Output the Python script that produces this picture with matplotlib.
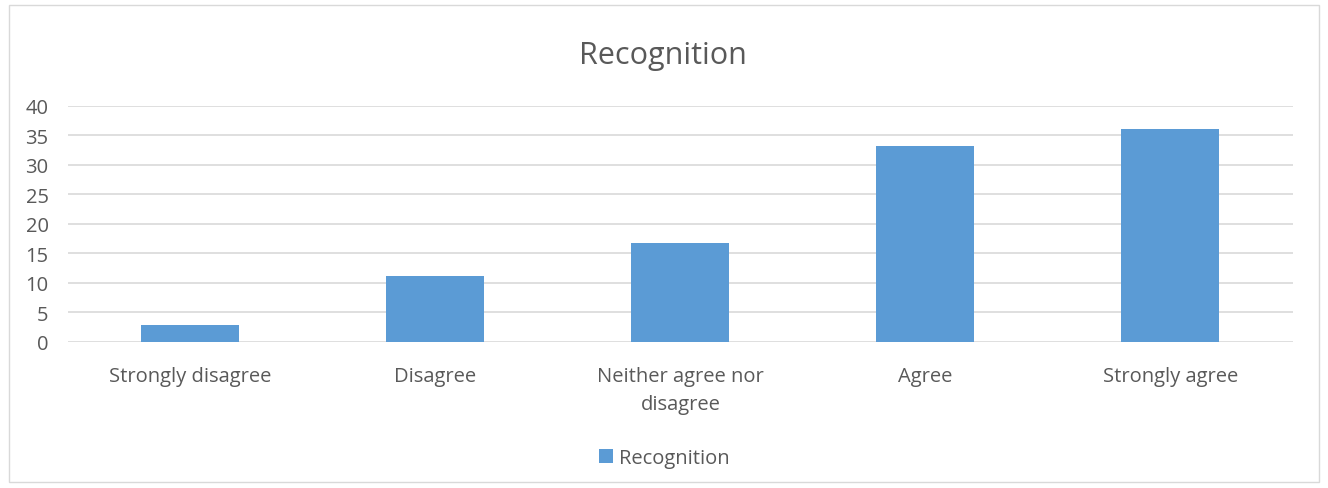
import matplotlib.pyplot as plt
from matplotlib.patches import Rectangle

categories = ["Strongly disagree", "Disagree", "Neither agree nor\ndisagree", "Agree", "Strongly agree"]
values = [2.8, 11.1, 16.7, 33.3, 36.1]
series_name = "Recognition"

plt.rcParams['font.family'] = ['Open Sans', 'DejaVu Sans']
txt = '#595959'
grid = '#d9d9d9'
blue = '#5b9bd5'

fig = plt.figure(figsize=(13.28, 4.89), dpi=100)
fig.patches.append(Rectangle((0.007, 0.012), 0.986, 0.976, transform=fig.transFigure,
                             fill=False, edgecolor=grid, linewidth=1))
ax = fig.add_axes([0.0512, 0.2986, 0.9224, 0.4826])

x = range(len(categories))
ax.bar(x, values, width=0.4, color=blue, label=series_name, zorder=3)

ax.set_xlim(-0.5, len(categories) - 0.5)
ax.set_ylim(0, 40)
ax.set_yticks(range(0, 41, 5))
ax.grid(axis='y', color=grid, linewidth=1.2, zorder=0)
for s in ax.spines.values():
    s.set_visible(False)
ax.tick_params(length=0, labelsize=14.5, colors=txt)
ax.tick_params(axis='x', pad=17)
ax.tick_params(axis='y', pad=14)
ax.set_xticks(list(x))
ax.set_xticklabels(categories, linespacing=1.55)

fig.text(0.4995, 0.886, "Recognition", ha='center', va='center', fontsize=22, color=txt)
fig.legend(loc='center', bbox_to_anchor=(0.5, 0.062), frameon=False, fontsize=14.5,
           labelcolor=txt, handlelength=0.7, handleheight=0.7, handletextpad=0.3)

fig.savefig('out.png', dpi=100)
